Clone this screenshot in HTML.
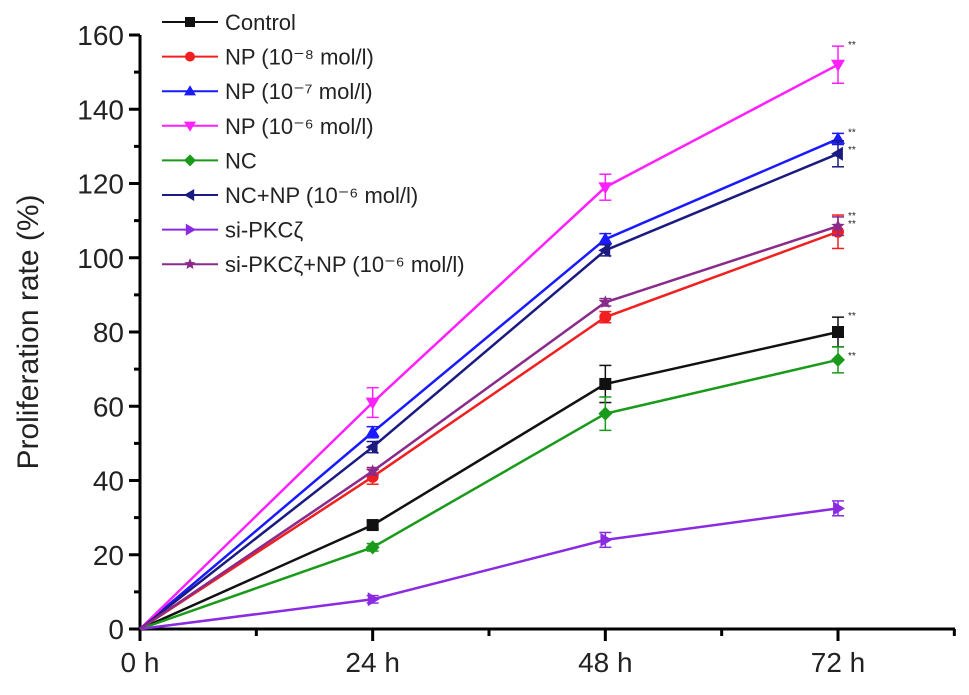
<!DOCTYPE html>
<html><head><meta charset="utf-8"><style>
body{margin:0;background:#fff;width:969px;height:690px;overflow:hidden}
svg text{font-family:"Liberation Sans",sans-serif;fill:#222}
</style></head><body>
<svg id="chart" width="969" height="690" viewBox="0 0 969 690" xmlns="http://www.w3.org/2000/svg"></svg>
<script>
const categories=["0 h","24 h","48 h","72 h"];
const yTicks=[0,20,40,60,80,100,120,140,160];
const seriesNames=["Control","NP (10⁻⁸ mol/l)","NP (10⁻⁷ mol/l)","NP (10⁻⁶ mol/l)","NC","NC+NP (10⁻⁶ mol/l)","si-PKCζ","si-PKCζ+NP (10⁻⁶ mol/l)"];
const control=[0,28,66,80];
const np8=[0,41,84,107];
const np7=[0,53,105,132];
const np6=[0,61,119,152];
const nc=[0,22,58,72.5];
const ncnp=[0,49,102,128];
const sipkc=[0,8,24,32.5];
const sinp=[0,42.5,88,108.5];
const controlErr=[0,1,5,4];
const np8Err=[0,2,1.5,4.5];
const np7Err=[0,1.5,1.5,1.5];
const np6Err=[0,4,3.5,5];
const ncErr=[0,1,4.5,3.5];
const ncnpErr=[0,1.5,1.5,3.5];
const sipkcErr=[0,1,2,2];
const sinpErr=[0,1,1,2.5];
const seriesVals=[control,np8,np7,np6,nc,ncnp,sipkc,sinp];
const seriesErr=[controlErr,np8Err,np7Err,np6Err,ncErr,ncnpErr,sipkcErr,sinpErr];
const colors=["#111","#f02020","#1a1aff","#ff20ff","#1a9a1a","#1a1a80","#8a2be2","#8a2a8a"];
const markers=["square","circle","up","down","diamond","left","right","star"];
const svg=document.getElementById('chart');
const NS="http://www.w3.org/2000/svg";
const X0=140,XS=(838-140)/3,Y0=629,YS=(629-35)/160;
const xs=i=>X0+i*XS, ys=v=>Y0-v*YS;
function mk(t,a,p){const e=document.createElementNS(NS,t);for(const k in a)e.setAttribute(k,a[k]);(p||svg).appendChild(e);return e;}
// axes
let ax=mk('line',{x1:X0,y1:Y0,x2:955,y2:Y0,stroke:'#000','stroke-width':3});


ax=mk('line',{x1:X0,y1:Y0+1,x2:X0,y2:35,stroke:'#000','stroke-width':3});


yTicks.forEach(v=>{
  mk('line',{x1:X0-11,y1:ys(v),x2:X0,y2:ys(v),stroke:'#000','stroke-width':3});
  if(v<160)mk('line',{x1:X0-6,y1:ys(v+10),x2:X0,y2:ys(v+10),stroke:'#000','stroke-width':3});
  const t=mk('text',{x:X0-16,y:ys(v)+10,'text-anchor':'end','font-size':28});
  t.textContent=v;
  
  
});
categories.forEach((c,i)=>{
  mk('line',{x1:xs(i),y1:Y0,x2:xs(i),y2:Y0+12,stroke:'#000','stroke-width':3});
  mk('line',{x1:xs(i+0.5),y1:Y0,x2:xs(i+0.5),y2:Y0+7,stroke:'#000','stroke-width':3});
  const t=mk('text',{x:xs(i),y:672,'text-anchor':'middle','font-size':28});
  t.textContent=c;
  
  
});
const yt=mk('text',{x:0,y:0,'text-anchor':'middle','font-size':30,transform:'translate(38,332) rotate(-90)'});
yt.textContent='Proliferation rate (%)';


function marker(type,x,y,c,g,s){
  s=s||7;
  if(type==='square')mk('rect',{x:x-s+1,y:y-s+1,width:2*s-2,height:2*s-2,fill:c},g);
  else if(type==='circle')mk('circle',{cx:x,cy:y,r:s-1,fill:c},g);
  else if(type==='up')mk('polygon',{points:`${x},${y-s} ${x-s},${y+s*0.7} ${x+s},${y+s*0.7}`,fill:c},g);
  else if(type==='down')mk('polygon',{points:`${x},${y+s} ${x-s},${y-s*0.7} ${x+s},${y-s*0.7}`,fill:c},g);
  else if(type==='diamond')mk('polygon',{points:`${x},${y-s} ${x+s},${y} ${x},${y+s} ${x-s},${y}`,fill:c},g);
  else if(type==='left')mk('polygon',{points:`${x-s},${y} ${x+s*0.7},${y-s} ${x+s*0.7},${y+s}`,fill:c},g);
  else if(type==='right')mk('polygon',{points:`${x+s},${y} ${x-s*0.7},${y-s} ${x-s*0.7},${y+s}`,fill:c},g);
  else {let p=[];for(let k=0;k<10;k++){const r=k%2?s*0.45:s,a=-Math.PI/2+k*Math.PI/5;p.push((x+r*Math.cos(a))+','+(y+r*Math.sin(a)));}mk('polygon',{points:p.join(' '),fill:c},g);}
}
seriesVals.forEach((vals,si)=>{
  const g=mk('g',{});
  
  
  const c=colors[si];
  mk('polyline',{points:vals.map((v,i)=>xs(i)+','+ys(v)).join(' '),fill:'none',stroke:c,'stroke-width':2.5},g);
  vals.forEach((v,i)=>{
    const e=seriesErr[si][i];
    if(e>0){
      mk('line',{x1:xs(i),y1:ys(v-e),x2:xs(i),y2:ys(v+e),stroke:c,'stroke-width':1.5},g);
      [v-e,v+e].forEach(w=>mk('line',{x1:xs(i)-6,y1:ys(w),x2:xs(i)+6,y2:ys(w),stroke:c,'stroke-width':1.5},g));
    }
    if(i>0)marker(markers[si],xs(i),ys(v),c,g);
  });
  if(si!==6){
    const st=mk('text',{x:xs(3)+10,y:ys(vals[3]+seriesErr[si][3])+(si===1||si===5||si===4?12:2),'font-size':10,fill:'#333'},g);
    st.textContent='**';
    
    
  }
});
// legend
const lg=mk('g',{});


seriesNames.forEach((n,i)=>{
  const y=22+i*34.6;
  const e=mk('g',{},lg);
  
  
  mk('line',{x1:162,y1:y,x2:218,y2:y,stroke:colors[i],'stroke-width':2},e);
  marker(markers[i],190,y,colors[i],e,6);
  const t=mk('text',{x:225,y:y+8,'font-size':22},e);
  t.textContent=n;
});
</script>
</body></html>
